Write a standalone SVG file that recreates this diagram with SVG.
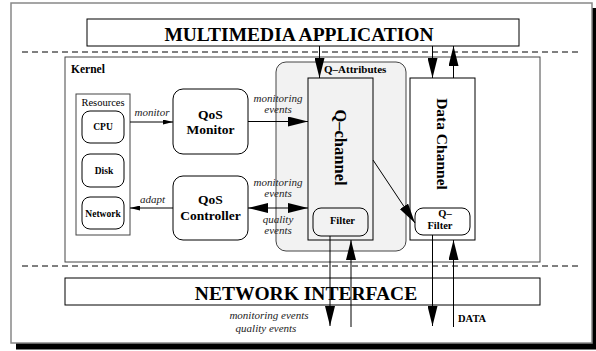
<svg xmlns="http://www.w3.org/2000/svg" width="596" height="351" viewBox="0 0 596 351">
<style>
.serif{font-family:"Liberation Serif","Times New Roman",serif;}
.b{font-weight:bold;}
.lbl{font-family:"Liberation Serif","Times New Roman",serif;font-style:italic;font-size:11px;fill:#222;}
.ln{stroke:#000;stroke-width:1;fill:none;}
.dash{stroke:#000;stroke-width:1;stroke-dasharray:6 4;fill:none;}
.box{fill:#fff;stroke:#000;stroke-width:1;}
.gbox{fill:#fff;stroke:#444;stroke-width:1;}
</style>
<defs>
<marker id="big" markerUnits="userSpaceOnUse" markerWidth="20" markerHeight="10" refX="20" refY="5" orient="auto-start-reverse">
<path d="M0,0 L20,5 L0,10 Z" fill="#000"/>
</marker>
<marker id="small" markerUnits="userSpaceOnUse" markerWidth="10" markerHeight="5" refX="10" refY="2.5" orient="auto">
<path d="M0,0 L10,2.5 L0,5 Z" fill="#000"/>
</marker>
</defs>
<rect width="596" height="351" fill="#fff"/>
<g id="frame">
<rect x="16" y="8" width="580" height="341.5" fill="#000"/>
<rect x="11" y="3" width="581" height="340" fill="#fff" stroke="#888" stroke-width="1.5"/>
<line class="dash" x1="22" y1="52" x2="580" y2="52"/>
<line class="dash" x1="22" y1="266" x2="580" y2="266"/>
</g>
<g id="multimedia-application">
<rect class="box" x="87" y="19" width="432" height="27"/>
<text class="serif b" x="299" y="41" font-size="19.5" text-anchor="middle">MULTIMEDIA APPLICATION</text>
</g>
<g id="kernel">
<rect class="gbox" x="65" y="57" width="475" height="205"/>
<text class="serif b" x="71" y="73" font-size="11.5">Kernel</text>
</g>
<g id="resources">
<rect class="gbox" x="76" y="94" width="54" height="141"/>
<text class="serif" x="103" y="106" font-size="10.5" text-anchor="middle">Resources</text>
</g>
<g id="cpu">
<rect class="box" x="82" y="111" width="42" height="32" rx="8"/>
<text class="serif b" x="103" y="130" font-size="9.5" text-anchor="middle">CPU</text>
</g>
<g id="disk">
<rect class="box" x="82" y="154" width="42" height="33" rx="8"/>
<text class="serif b" x="104" y="174" font-size="9.5" text-anchor="middle">Disk</text>
</g>
<g id="network">
<rect class="box" x="82" y="197" width="42" height="32" rx="8"/>
<text class="serif b" x="103" y="217" font-size="9.5" text-anchor="middle">Network</text>
</g>
<g id="qos-monitor">
<rect class="box" x="173" y="89" width="75" height="65" rx="10"/>
<text class="serif b" x="210.5" y="118.5" font-size="13.5" text-anchor="middle">QoS</text>
<text class="serif b" x="210.5" y="134" font-size="13.5" text-anchor="middle">Monitor</text>
</g>
<g id="qos-controller">
<rect class="box" x="173" y="176" width="75" height="64" rx="10"/>
<text class="serif b" x="210.5" y="204" font-size="13.5" text-anchor="middle">QoS</text>
<text class="serif b" x="210.5" y="219.5" font-size="13.5" text-anchor="middle">Controller</text>
</g>
<g id="q-attributes">
<rect x="276" y="62" width="130" height="189" rx="10" fill="#f2f2f2" stroke="#444" stroke-width="1"/>
<text class="serif b" x="324" y="73" font-size="11">Q–Attributes</text>
</g>
<g id="q-channel">
<rect x="308" y="78" width="65" height="162" fill="#f2f2f2" stroke="#000" stroke-width="1"/>
<text class="serif b" font-size="16.5" text-anchor="middle" transform="translate(335,147.5) rotate(90)">Q–channel</text>
</g>
<g id="filter">
<rect x="313" y="208" width="55" height="28" rx="8" fill="#f2f2f2" stroke="#000" stroke-width="1"/>
<text class="serif b" x="342.5" y="223.5" font-size="10.5" text-anchor="middle">Filter</text>
</g>
<g id="data-channel">
<rect class="box" x="410" y="78" width="65" height="162"/>
<text class="serif b" font-size="15.5" text-anchor="middle" transform="translate(437,144) rotate(90)">Data Channel</text>
</g>
<g id="q-filter">
<rect class="box" x="415" y="208" width="55" height="27" rx="8"/>
<text class="serif b" x="445" y="217" font-size="10.5" text-anchor="middle">Q–</text>
<text class="serif b" x="440" y="229" font-size="10.5" text-anchor="middle">Filter</text>
</g>
<g id="network-interface">
<rect class="box" x="65" y="278" width="475" height="27"/>
<text class="serif b" x="306" y="300" font-size="19.5" text-anchor="middle">NETWORK INTERFACE</text>
</g>
<g id="connectors">
<line class="ln" x1="130" y1="122" x2="173" y2="122" marker-end="url(#small)"/>
<line class="ln" x1="173" y1="208" x2="130" y2="208" marker-end="url(#small)"/>
<line class="ln" x1="248" y1="121.5" x2="308" y2="121.5" marker-end="url(#big)"/>
<line class="ln" x1="248" y1="208" x2="308" y2="208" marker-start="url(#big)" marker-end="url(#big)"/>
<line class="ln" x1="373" y1="160" x2="415" y2="223" marker-end="url(#big)"/>
<line class="ln" x1="319.5" y1="46" x2="319.5" y2="78" marker-end="url(#big)"/>
<line class="ln" x1="432.5" y1="46" x2="432.5" y2="78" marker-end="url(#big)"/>
<line class="ln" x1="453.5" y1="78" x2="453.5" y2="46" marker-end="url(#big)"/>
<line class="ln" x1="330" y1="236" x2="330" y2="326" marker-end="url(#big)"/>
<line class="ln" x1="351" y1="327" x2="351" y2="240" marker-end="url(#big)"/>
<line class="ln" x1="432.5" y1="235" x2="432.5" y2="326" marker-end="url(#big)"/>
<line class="ln" x1="453.5" y1="327" x2="453.5" y2="240" marker-end="url(#big)"/>
<text class="lbl" x="152" y="115.5" text-anchor="middle">monitor</text>
<text class="lbl" x="152.5" y="202.5" text-anchor="middle">adapt</text>
<text class="lbl" x="278" y="101.5" text-anchor="middle">monitoring</text>
<text class="lbl" x="278" y="113" text-anchor="middle">events</text>
<text class="lbl" x="278" y="186" text-anchor="middle">monitoring</text>
<text class="lbl" x="278" y="196.5" text-anchor="middle">events</text>
<text class="lbl" x="278" y="223" text-anchor="middle">quality</text>
<text class="lbl" x="278" y="233.5" text-anchor="middle">events</text>
<text class="lbl" x="269" y="319" text-anchor="middle" font-size="14">monitoring events</text>
<text class="lbl" x="266" y="331.5" text-anchor="middle" font-size="14">quality events</text>
<text class="serif b" x="458" y="322" font-size="10.5">DATA</text>
</g>
</svg>
